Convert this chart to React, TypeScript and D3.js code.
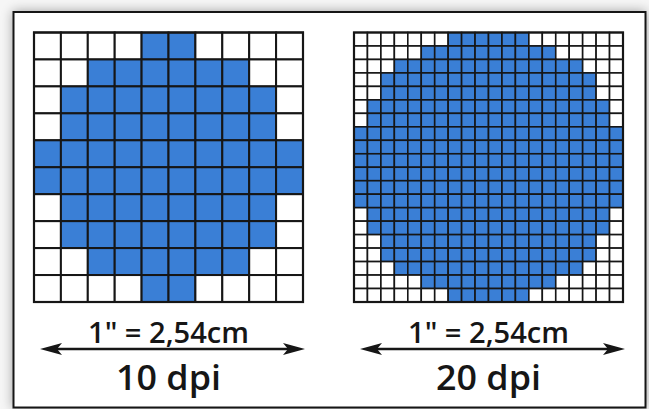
import React from "react";
import * as d3 from "d3";

// number of white cells on each side of every row (blue circle in the middle)
const marginsLow = [4, 2, 1, 1, 0, 0, 1, 1, 2, 4];
const marginsHigh = [7, 5, 3, 2, 2, 1, 1, 0, 0, 0, 0, 0, 0, 1, 1, 2, 2, 3, 5, 7];
const panelLabels = ['1" = 2,54cm', '1" = 2,54cm'];
const dpiLabels = ["10 dpi", "20 dpi"];

const W = 649;
const H = 409;
const BLUE = "#3a7fd6";
const INK = "#161616";

type Panel = { margins: number[]; x0: number; x1: number; label: string; dpi: string };

const panels: Panel[] = [
  { margins: marginsLow, x0: 34, x1: 303, label: panelLabels[0], dpi: dpiLabels[0] },
  { margins: marginsHigh, x0: 354, x1: 623, label: panelLabels[1], dpi: dpiLabels[1] },
];

const Y0 = 32.5;
const Y1 = 302;

function Grid({ p }: { p: Panel }) {
  const n = p.margins.length;
  const x = d3.scaleLinear().domain([0, n]).range([p.x0, p.x1]);
  const y = d3.scaleLinear().domain([0, n]).range([Y0, Y1]);
  const sw = n > 10 ? 1.6 : 2;
  const cells: React.ReactNode[] = [];
  p.margins.forEach((m, r) => {
    for (let c = 0; c < n; c++) {
      const blue = c >= m && c < n - m;
      cells.push(
        <rect
          key={`${r}-${c}`}
          x={x(c)}
          y={y(r)}
          width={x(c + 1) - x(c)}
          height={y(r + 1) - y(r)}
          fill={blue ? BLUE : "#ffffff"}
          stroke={INK}
          strokeWidth={sw}
        />
      );
    }
  });
  const cx = (p.x0 + p.x1) / 2;
  const ay = 349;
  const ax0 = p.x0 + 6;
  const ax1 = p.x1 + 2;
  const head = 22;
  const hh = 6;
  return (
    <g>
      {cells}
      <rect x={p.x0} y={Y0} width={p.x1 - p.x0} height={Y1 - Y0} fill="none" stroke={INK} strokeWidth={2.2} />
      <text
        x={cx}
        y={343}
        textAnchor="middle"
        fontFamily="'Open Sans', 'Noto Sans', sans-serif"
        fontWeight={600}
        fontSize={29.5}
        fill={INK}
        textLength={161}
        lengthAdjust="spacingAndGlyphs"
      >
        {p.label}
      </text>
      <line x1={ax0 + 8} x2={ax1 - 8} y1={ay} y2={ay} stroke={INK} strokeWidth={2.5} />
      <path d={`M${ax0},${ay} L${ax0 + head},${ay - hh} L${ax0 + head - 5},${ay} L${ax0 + head},${ay + hh} Z`} fill={INK} />
      <path d={`M${ax1},${ay} L${ax1 - head},${ay - hh} L${ax1 - head + 5},${ay} L${ax1 - head},${ay + hh} Z`} fill={INK} />
      <text
        x={cx}
        y={390}
        textAnchor="middle"
        fontFamily="'Open Sans', 'Noto Sans', sans-serif"
        fontWeight={600}
        fontSize={35}
        fill={INK}
        textLength={105}
        lengthAdjust="spacingAndGlyphs"
      >
        {p.dpi}
      </text>
    </g>
  );
}

export default function App() {
  return (
    <svg
      width={W}
      height={H}
      viewBox={`0 0 ${W} ${H}`}
      style={{ position: "absolute", left: 0, top: 0, display: "block", background: "#ffffff" }}
    >
      <defs>
        <filter id="shadow" x="-10%" y="-10%" width="120%" height="120%">
          <feGaussianBlur in="SourceAlpha" stdDeviation="6" />
          <feComponentTransfer>
            <feFuncA type="linear" slope="0.35" />
          </feComponentTransfer>
          <feMerge>
            <feMergeNode />
            <feMergeNode in="SourceGraphic" />
          </feMerge>
        </filter>
      </defs>
      <rect x={0} y={0} width={W} height={H} fill="#f6f6f6" />
      <rect x={13.5} y={12} width={632} height={395.5} fill="#ffffff" stroke={INK} strokeWidth={2} filter="url(#shadow)" />
      {panels.map((p, i) => (
        <Grid key={i} p={p} />
      ))}
    </svg>
  );
}
